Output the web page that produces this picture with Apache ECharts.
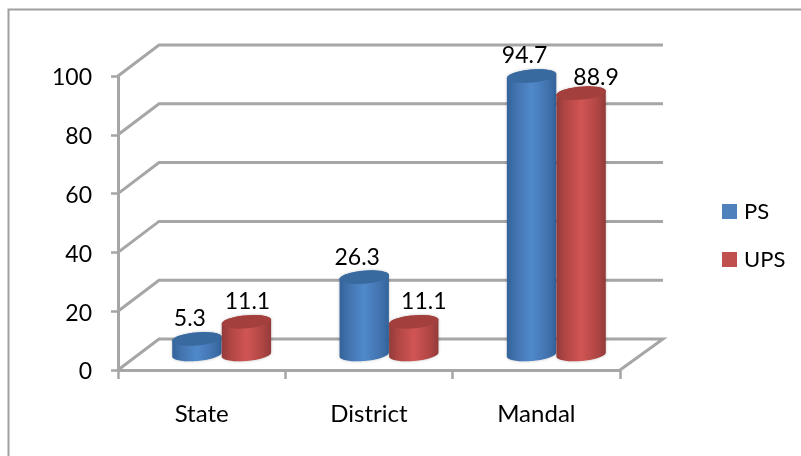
<!DOCTYPE html>
<html>
<head>
<meta charset="utf-8">
<title>PS and UPS</title>
<script src="https://cdn.jsdelivr.net/npm/echarts@6/dist/echarts.min.js"></script>
<style>
	html, body { margin: 0; padding: 0; background: #fff; }
	#myChart { width: 801px; height: 456px; }
</style>
</head>
<body>
<div id="myChart"></div>
<script>
	var categories = ['State', 'District', 'Mandal'];
	var psValues = [5.3, 26.3, 94.7];
	var upsValues = [11.1, 11.1, 88.9];
	var yTicks = [0, 20, 40, 60, 80, 100];

	var fontName = 'Lato, "Open Sans", sans-serif';
	var lineGrey = '#a6a6a6';
	var tilt = 5 * Math.PI / 180;

	// points along a slightly tilted ellipse, angles in radians
	function arc(cx, cy, rx, ry, from, to) {
		var pts = [];
		for (var i = 0; i <= 40; i++) {
			var t = from + (to - from) * i / 40;
			var ex = rx * Math.cos(t);
			var ey = ry * Math.sin(t);
			pts.push([cx + ex * Math.cos(tilt) + ey * Math.sin(tilt), cy - ex * Math.sin(tilt) + ey * Math.cos(tilt)]);
		}
		return pts;
	}

	function sideGradient(c) {
		return new echarts.graphic.LinearGradient(0, 0, 1, 0, [
			{ offset: 0, color: c.edge },
			{ offset: 0.18, color: c.near },
			{ offset: 0.5, color: c.mid },
			{ offset: 0.82, color: c.near },
			{ offset: 1, color: c.edge }
		]);
	}

	// cylinder sitting half way back on the floor
	function cylinder(side, colors, labelShift) {
		return function(params, api) {
			var top = api.coord([api.value(0), api.value(1)]);
			var base = api.coord([api.value(0), 0]);
			var rx = api.size([1, 0])[0] * 0.148;
			var ry = 6.5;
			var dx = 20 + side * rx;
			var dy = -15.5;
			var cx = top[0] + dx;
			var shift = labelShift[params.dataIndex];
			var body = arc(cx, top[1] + dy, rx, ry, Math.PI, 2 * Math.PI)
				.concat(arc(cx, base[1] + dy, rx, ry, 0, Math.PI));
			return {
				type: 'group',
				children: [{
					type: 'polygon',
					shape: { points: body },
					style: { fill: sideGradient(colors), shadowBlur: 3, shadowColor: 'rgba(0,0,0,0.25)' }
				}, {
					type: 'polygon',
					shape: { points: arc(cx, top[1] + dy, rx, ry, 0, 2 * Math.PI) },
					style: { fill: colors.top }
				}, {
					type: 'text',
					x: cx + shift[0],
					y: top[1] + dy + shift[1],
					style: {
						text: String(api.value(1)),
						fill: '#000',
						font: '23px ' + fontName,
						align: 'center',
						verticalAlign: 'middle'
					}
				}]
			};
		};
	}

	// back wall lines and the floor edge
	function wallLines(params, api) {
		var p = api.coord([0, api.value(1)]);
		var left = params.coordSys.x;
		var right = left + params.coordSys.width;
		var pts = [[left, p[1]], [left + 41, p[1] - 31], [right + 43, p[1] - 31]];
		if (api.value(1) === 0) {
			pts.push([right, p[1]]);
		}
		return {
			type: 'polyline',
			shape: { points: pts },
			style: { fill: null, stroke: lineGrey, lineWidth: 3 }
		};
	}

	function pairs(values) {
		return values.map(function(v, i) {
			return [i, v];
		});
	}

	var myChart = echarts.init(document.getElementById('myChart'), null, { renderer: 'canvas' });
	myChart.setOption({
		animation: false,
		textStyle: { fontFamily: fontName },
		grid: { left: 118, right: 181, top: 76, bottom: 86 },
		graphic: [{
			type: 'polyline',
			shape: { points: [[8.5, 456], [8.5, 9.5], [801, 9.5]] },
			style: { fill: null, stroke: '#a0a0a0', lineWidth: 2 }
		}],
		legend: {
			data: ['PS', 'UPS'],
			orient: 'vertical',
			left: 717,
			top: 194,
			icon: 'rect',
			itemWidth: 15,
			itemHeight: 15,
			itemGap: 23,
			textStyle: { fontSize: 22, lineHeight: 25, color: '#000', fontFamily: fontName, padding: [0, 0, 0, 2] }
		},
		xAxis: {
			type: 'category',
			data: categories,
			axisLine: { lineStyle: { color: lineGrey, width: 3 } },
			axisTick: { show: true, length: 9, lineStyle: { color: lineGrey, width: 2.5 } },
			axisLabel: { color: '#000', fontSize: 24, margin: 32, fontFamily: fontName }
		},
		yAxis: {
			type: 'value',
			min: 0,
			max: 100,
			interval: 20,
			splitLine: { show: false },
			axisLine: { show: true, lineStyle: { color: lineGrey, width: 3 } },
			axisTick: { show: true, length: 7, lineStyle: { color: lineGrey, width: 2.5 } },
			axisLabel: {
				margin: 26,
				formatter: '{t|{value}}',
				rich: { t: { color: '#000', fontSize: 23, fontFamily: fontName, padding: [4, 0, 0, 0] } }
			}
		},
		series: [{
			type: 'custom',
			name: 'walls',
			silent: true,
			z: 1,
			data: pairs(yTicks).map(function(d) { return [0, d[1]]; }),
			encode: { x: 0, y: 1 },
			renderItem: wallLines
		}, {
			type: 'custom',
			name: 'PS',
			z: 2,
			itemStyle: { color: '#4f81bd' },
			data: pairs(psValues),
			encode: { x: 0, y: 1 },
			renderItem: cylinder(-1, { edge: '#34639b', near: '#4273ae', mid: '#5089cb', top: '#386a9f' }, [[-7, -20], [-7, -20], [-7, -21]])
		}, {
			type: 'custom',
			name: 'UPS',
			z: 3,
			itemStyle: { color: '#c0504d' },
			data: pairs(upsValues),
			encode: { x: 0, y: 1 },
			renderItem: cylinder(1, { edge: '#923b39', near: '#b04644', mid: '#d15553', top: '#a33f3c' }, [[1, -20], [10, -20], [15, -16]])
		}]
	});
</script>
</body>
</html>
